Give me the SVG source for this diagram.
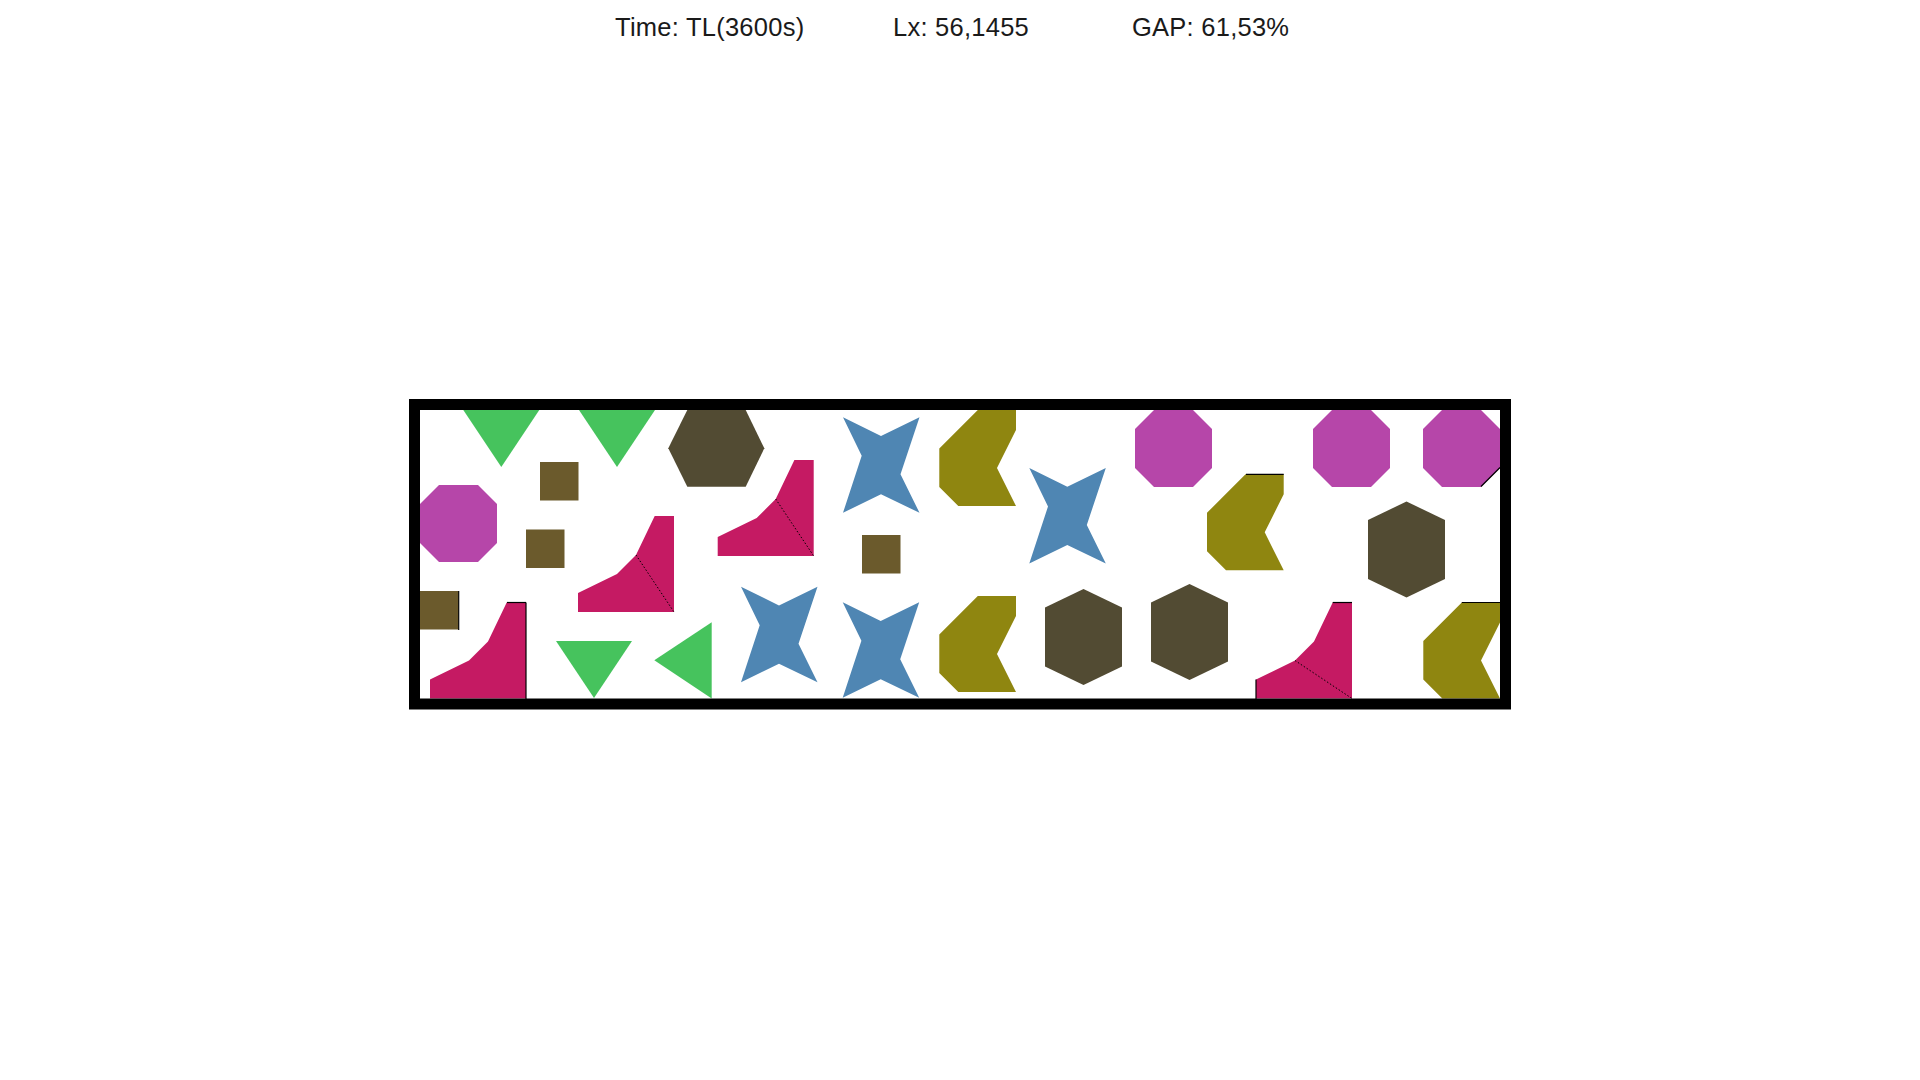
<svg xmlns="http://www.w3.org/2000/svg" xmlns:xlink="http://www.w3.org/1999/xlink" width="1920" height="1080" viewBox="0 0 1920 1080">
<style>
.hdr{font-family:"Liberation Sans",Arial,sans-serif;font-size:25.5px;letter-spacing:0.25px;fill:#1a1a1a}
.oct{fill:#b646a9}
.tri{fill:#46c35d}
.sq{fill:#6b5a2c}
.hex{fill:#524b33}
.star{fill:#4f86b3}
.chev{fill:#8f8610}
.ell{fill:#c51a63}
.dot{stroke:#000;stroke-width:1;stroke-dasharray:1.5 2;fill:none}
.edge{stroke:#000;stroke-width:1.2;fill:none}
</style>
<defs>
<polygon id="p-oct" points="19,0 58,0 77,19 77,58 58,77 19,77 0,58 0,19"/>
<polygon id="p-tri" points="0,0 76,0 38,57"/>
<polygon id="p-sq" points="0,0 38.5,0 38.5,38.5 0,38.5"/>
<polygon id="p-hex" points="38.5,0 77,18.5 77,77.5 38.5,96 0,77.5 0,18.5"/>
<polygon id="p-star" points="0,0 38,18.7 76.5,0 57.5,57 76.5,95.5 38,77 0,95.5 18.7,38.5"/>
<polygon id="p-chev" points="38.5,0 76.7,0 76.7,20 57.7,58 76.7,96 19,96 0,77 0,38.5"/>
<polygon id="p-ell" points="76.7,0 96,0 96,96 0,96 0,77 39,58 58,39"/>
</defs>
<rect width="1920" height="1080" fill="#fff"/>
<g id="header">
<text class="hdr" x="615" y="35.5">Time: TL(3600s)</text>
<text class="hdr" x="893" y="35.5">Lx: 56,1455</text>
<text class="hdr" x="1132" y="35.5">GAP: 61,53%</text>
</g>
<g id="pieces">
<g id="oct1"><use xlink:href="#p-oct" class="oct" x="420" y="485"/></g>
<g id="oct2"><use xlink:href="#p-oct" class="oct" x="1135" y="410"/></g>
<g id="oct3"><use xlink:href="#p-oct" class="oct" x="1313" y="410"/></g>
<g id="oct4"><use xlink:href="#p-oct" class="oct" x="1423" y="410"/></g>
<g id="tri1"><use xlink:href="#p-tri" class="tri" x="463.3" y="410"/></g>
<g id="tri2"><use xlink:href="#p-tri" class="tri" x="579" y="410"/></g>
<g id="tri3"><use xlink:href="#p-tri" class="tri" x="556" y="641"/></g>
<g id="tri4"><polygon class="tri" points="711.7,622.3 711.7,698.5 654.3,660.3"/></g>
<g id="sq1"><use xlink:href="#p-sq" class="sq" x="540" y="462"/></g>
<g id="sq2"><use xlink:href="#p-sq" class="sq" x="526" y="529.5"/></g>
<g id="sq3"><use xlink:href="#p-sq" class="sq" x="420" y="591"/></g>
<g id="sq4"><use xlink:href="#p-sq" class="sq" x="862" y="535"/></g>
<g id="hex1"><polygon class="hex" points="687.3,410 745.7,410 764.3,448.3 745.7,486.7 687.3,486.7 668.3,448.3"/></g>
<g id="hex2"><use xlink:href="#p-hex" class="hex" x="1045" y="589"/></g>
<g id="hex3"><use xlink:href="#p-hex" class="hex" x="1151" y="584"/></g>
<g id="hex4"><use xlink:href="#p-hex" class="hex" x="1368" y="501.5"/></g>
<g id="star1"><use xlink:href="#p-star" class="star" x="843" y="417.3"/></g>
<g id="star2"><use xlink:href="#p-star" class="star" x="741" y="586.7"/></g>
<g id="star3"><use xlink:href="#p-star" class="star" x="842.7" y="602.3"/></g>
<g id="star4"><use xlink:href="#p-star" class="star" x="1029.3" y="468"/></g>
<g id="chev1"><use xlink:href="#p-chev" class="chev" x="939.3" y="410"/></g>
<g id="chev2"><use xlink:href="#p-chev" class="chev" x="1207" y="474.3"/></g>
<g id="chev3"><use xlink:href="#p-chev" class="chev" x="939.3" y="596"/></g>
<g id="chev4"><use xlink:href="#p-chev" class="chev" x="1423.3" y="602.5"/></g>
<g id="ell1"><use xlink:href="#p-ell" class="ell" x="578" y="516"/><line class="dot" x1="636" y1="555" x2="674" y2="612"/></g>
<g id="ell2"><use xlink:href="#p-ell" class="ell" x="430" y="602.5"/></g>
<g id="ell3"><use xlink:href="#p-ell" class="ell" x="717.7" y="460"/><line class="dot" x1="775.7" y1="499" x2="813.7" y2="556"/></g>
<g id="ell4"><use xlink:href="#p-ell" class="ell" x="1256" y="602.5"/><line class="dot" x1="1295" y1="660.5" x2="1352" y2="698.5"/></g>
</g>
<g id="edges">
<line class="edge" x1="458.7" y1="591" x2="458.7" y2="630"/>
<line class="edge" x1="507" y1="602.5" x2="526" y2="602.5"/>
<line class="edge" x1="526" y1="602.5" x2="526" y2="699"/>
<line class="edge" x1="1246" y1="474.3" x2="1283.7" y2="474.3"/>
<line class="edge" x1="1332.7" y1="602.5" x2="1352" y2="602.5"/>
<line class="edge" x1="1256" y1="679.5" x2="1256" y2="699"/>
<line class="edge" x1="1461.8" y1="602.5" x2="1500" y2="602.5"/>
<line class="edge" x1="1481" y1="486.5" x2="1500" y2="467.5"/>
</g>
<g id="container">
<rect x="414.5" y="404.5" width="1091" height="299.5" fill="none" stroke="#000" stroke-width="11"/>
</g>
</svg>
